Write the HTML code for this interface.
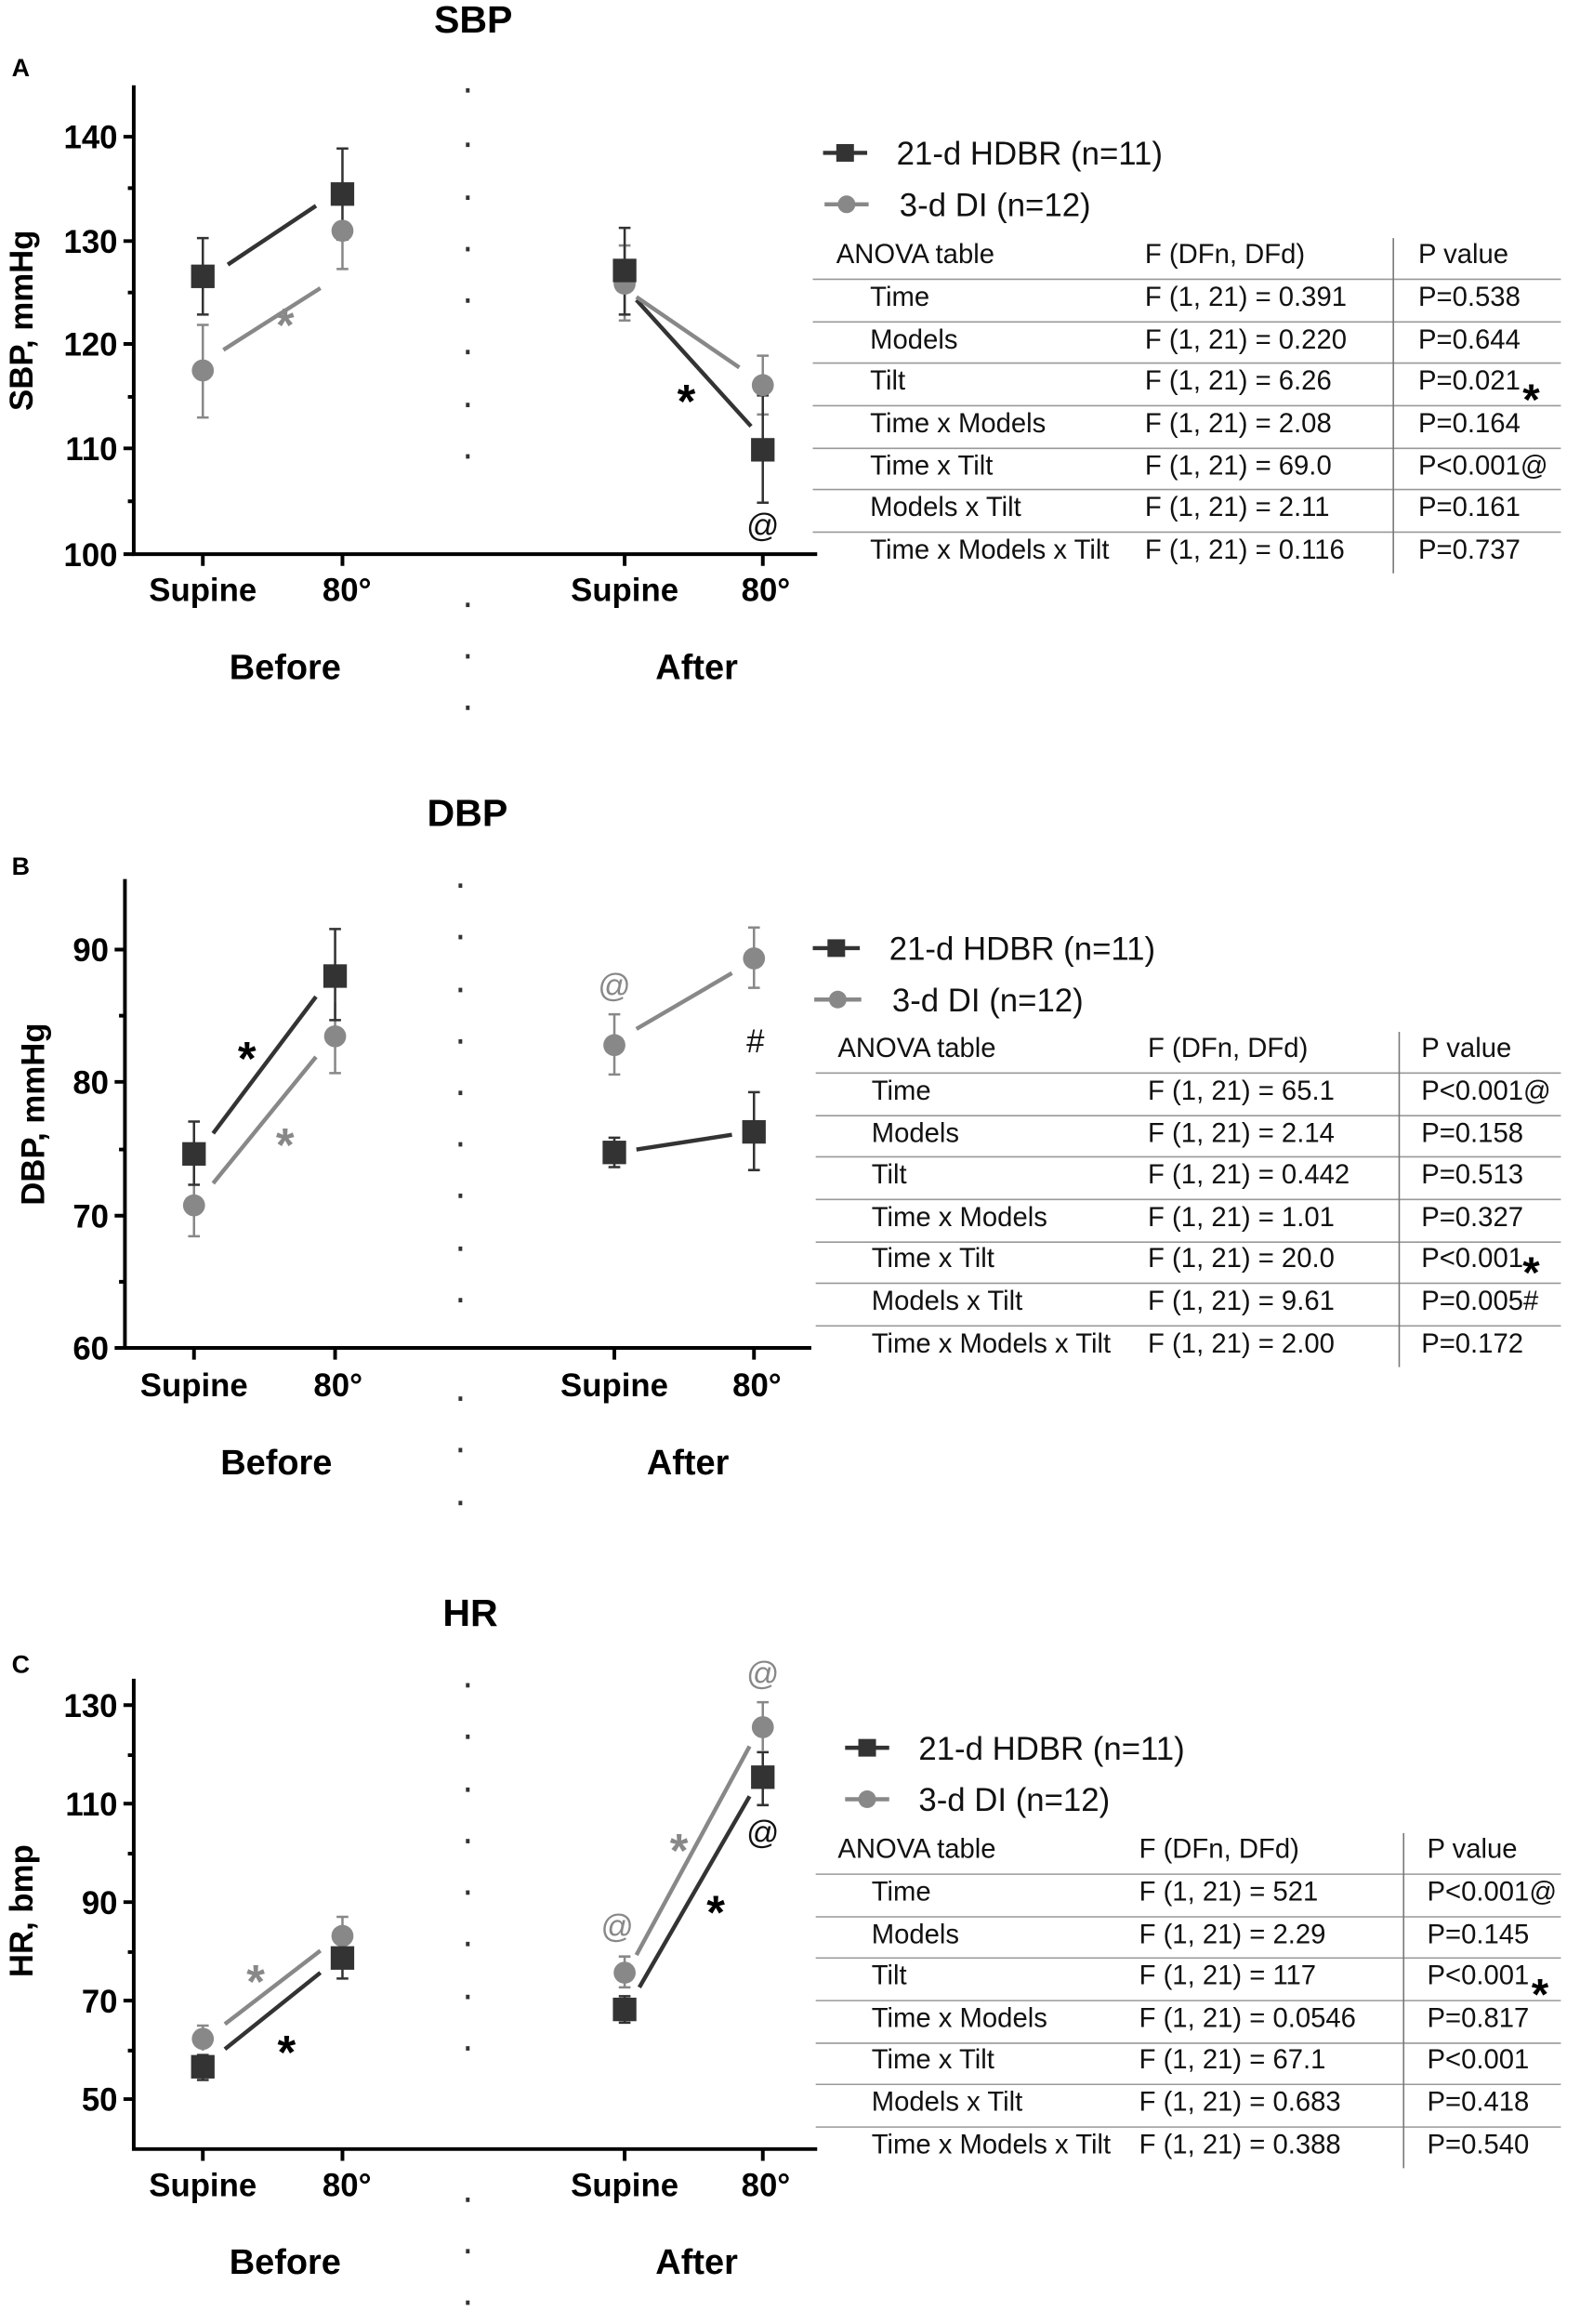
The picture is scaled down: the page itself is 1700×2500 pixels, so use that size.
<!DOCTYPE html>
<html><head><meta charset="utf-8"><style>
html,body{margin:0;padding:0;background:#fff}
svg{display:block}
.b{font-family:"Liberation Sans",sans-serif;font-weight:bold;fill:#000}
.t{font-family:"Liberation Sans Narrow","Liberation Sans",sans-serif;font-size:18.5px;fill:#111}
.tk{font-family:"Liberation Sans Narrow","Liberation Sans",sans-serif;font-weight:bold;font-size:22px;fill:#000}
.lg{font-family:"Liberation Sans Narrow","Liberation Sans",sans-serif;font-size:22px;fill:#111}
.ax{stroke:#000;stroke-width:2.5;fill:none}
.d{fill:#333}.g{fill:#888}
.ed{stroke:#333;stroke-width:1.6}.eg{stroke:#888;stroke-width:1.6}
.ld{stroke:#333;stroke-width:2.8}.lgr{stroke:#888;stroke-width:2.8}
.hl{stroke:#999;stroke-width:1}.vl{stroke:#777;stroke-width:1}
</style></head><body>
<svg width="1700" height="2500" viewBox="0 0 1075 1581" preserveAspectRatio="none" xmlns="http://www.w3.org/2000/svg">

<!-- ================= PANEL A ================= -->
<text class="b" x="322" y="22" font-size="26" text-anchor="middle">SBP</text>
<text class="b" x="8" y="52" font-size="17">A</text>
<g class="ax">
<path d="M91,58 V377 H556"/>
<path d="M84,93 H91 M84,164 H91 M84,234 H91 M84,305 H91 M84,377 H91"/>
<path d="M87,128 H91 M87,199 H91 M87,270 H91 M87,341 H91"/>
<path d="M138,377 V385 M233,377 V385 M425,377 V385 M519,377 V385"/>
</g>
<g class="tk" text-anchor="end"><text x="80" y="101">140</text><text x="80" y="172">130</text><text x="80" y="242">120</text><text x="80" y="313">110</text><text x="80" y="385">100</text></g>
<text class="b" font-size="22" transform="translate(22,218) rotate(-90)" text-anchor="middle">SBP, mmHg</text>
<g class="tk" text-anchor="middle"><text x="138" y="409">Supine</text><text x="236" y="409">80°</text><text x="425" y="409">Supine</text><text x="521" y="409">80°</text></g>
<g class="b" font-size="24" text-anchor="middle"><text x="194" y="462">Before</text><text x="474" y="462">After</text></g>
<g class="d"><rect x="317" y="60" width="2.5" height="3"/><rect x="317" y="97" width="2.5" height="3"/><rect x="317" y="133" width="2.5" height="3"/><rect x="317" y="168" width="2.5" height="3"/><rect x="317" y="203" width="2.5" height="3"/><rect x="317" y="238" width="2.5" height="3"/><rect x="317" y="274" width="2.5" height="3"/><rect x="317" y="309" width="2.5" height="3"/><rect x="317" y="410" width="2.5" height="3"/><rect x="317" y="445" width="2.5" height="3"/><rect x="317" y="480" width="2.5" height="3"/></g>
<path class="eg" d="M138,221 V284 M134,221 H142 M134,284 H142 M233,157 V183 M229,183 H237 M425,167 V218 M421,167 H429 M421,218 H429 M519,242 V282 M515,242 H523 M515,282 H523"/>
<path class="ed" d="M138,162 V214 M134,162 H142 M134,214 H142 M233,101 V163 M229,101 H237 M229,163 H237 M425,155 V214 M421,155 H429 M421,214 H429 M519,269 V342 M515,269 H523 M515,342 H523"/>
<path class="ld" d="M155,180 L215,140 M433,204 L511,290"/>
<path class="lgr" d="M152,238 L218,196 M433,202 L503,250"/>
<circle class="g" cx="138" cy="252" r="7.5"/><circle class="g" cx="233" cy="157" r="7.5"/><circle class="g" cx="425" cy="193" r="7.5"/><circle class="g" cx="519" cy="262" r="7.5"/>
<rect class="d" x="130" y="180" width="16" height="16"/><rect class="d" x="225" y="124" width="16" height="16"/><rect class="d" x="417" y="176" width="16" height="16"/><rect class="d" x="511" y="298" width="16" height="16"/>
<text class="b" x="194" y="232" font-size="32" style="fill:#888" text-anchor="middle">*</text>
<text class="b" x="467" y="284" font-size="32" text-anchor="middle">*</text>
<text class="lg" x="519" y="365" text-anchor="middle" font-size="20">@</text>
<path class="ld" d="M560,104 H590"/><rect class="d" x="569" y="98" width="12" height="12"/>
<path class="lgr" d="M561,139 H591"/><circle class="g" cx="576" cy="139" r="6"/>
<text class="lg" x="610" y="112">21-d HDBR (n=11)</text>
<text class="lg" x="612" y="147">3-d DI (n=12)</text>
<g class="t">
<text x="569" y="179">ANOVA table</text><text x="779" y="179">F (DFn, DFd)</text><text x="965" y="179">P value</text>
<text x="592" y="208">Time</text><text x="779" y="208">F (1, 21) = 0.391</text><text x="965" y="208">P=0.538</text>
<text x="592" y="237">Models</text><text x="779" y="237">F (1, 21) = 0.220</text><text x="965" y="237">P=0.644</text>
<text x="592" y="265">Tilt</text><text x="779" y="265">F (1, 21) = 6.26</text><text x="965" y="265">P=0.021</text>
<text x="592" y="294">Time x Models</text><text x="779" y="294">F (1, 21) = 2.08</text><text x="965" y="294">P=0.164</text>
<text x="592" y="323">Time x Tilt</text><text x="779" y="323">F (1, 21) = 69.0</text><text x="965" y="323">P&lt;0.001@</text>
<text x="592" y="351">Models x Tilt</text><text x="779" y="351">F (1, 21) = 2.11</text><text x="965" y="351">P=0.161</text>
<text x="592" y="380">Time x Models x Tilt</text><text x="779" y="380">F (1, 21) = 0.116</text><text x="965" y="380">P=0.737</text>
</g>
<text class="b" x="1036" y="282" font-size="30">*</text>
<path class="hl" d="M553,190 H1062 M553,219 H1062 M553,247 H1062 M553,276 H1062 M553,305 H1062 M553,333 H1062 M553,362 H1062"/>
<path class="vl" d="M948,162 V390"/>

<!-- ================= PANEL B ================= -->
<text class="b" x="318" y="562" font-size="26" text-anchor="middle">DBP</text>
<text class="b" x="8" y="595" font-size="17">B</text>
<g class="ax">
<path d="M85,598 V917 H552"/>
<path d="M78,646 H85 M78,736 H85 M78,827 H85 M78,917 H85"/>
<path d="M81,691 H85 M81,782 H85 M81,872 H85"/>
<path d="M132,917 V925 M228,917 V925 M418,917 V925 M513,917 V925"/>
</g>
<g class="tk" text-anchor="end"><text x="74" y="654">90</text><text x="74" y="744">80</text><text x="74" y="835">70</text><text x="74" y="925">60</text></g>
<text class="b" font-size="22" transform="translate(30,758) rotate(-90)" text-anchor="middle">DBP, mmHg</text>
<g class="tk" text-anchor="middle"><text x="132" y="950">Supine</text><text x="230" y="950">80°</text><text x="418" y="950">Supine</text><text x="515" y="950">80°</text></g>
<g class="b" font-size="24" text-anchor="middle"><text x="188" y="1003">Before</text><text x="468" y="1003">After</text></g>
<g class="d"><rect x="312" y="601" width="2.5" height="3"/><rect x="312" y="636" width="2.5" height="3"/><rect x="312" y="672" width="2.5" height="3"/><rect x="312" y="707" width="2.5" height="3"/><rect x="312" y="742" width="2.5" height="3"/><rect x="312" y="777" width="2.5" height="3"/><rect x="312" y="812" width="2.5" height="3"/><rect x="312" y="848" width="2.5" height="3"/><rect x="312" y="883" width="2.5" height="3"/><rect x="312" y="950" width="2.5" height="3"/><rect x="312" y="985" width="2.5" height="3"/><rect x="312" y="1021" width="2.5" height="3"/></g>
<path class="eg" d="M132,799 V841 M128,841 H136 M228,682 V730 M224,730 H232 M418,690 V731 M414,690 H422 M414,731 H422 M513,631 V672 M509,631 H517 M509,672 H517"/>
<path class="ed" d="M132,763 V806 M128,763 H136 M128,806 H136 M228,632 V694 M224,632 H232 M224,694 H232 M418,774 V794 M414,774 H422 M414,794 H422 M513,743 V796 M509,743 H517 M509,796 H517"/>
<path class="ld" d="M145,771 L215,678 M433,782 L498,772"/>
<path class="lgr" d="M145,805 L215,719 M433,700 L498,662"/>
<circle class="g" cx="132" cy="820" r="7.5"/><circle class="g" cx="228" cy="705" r="7.5"/><circle class="g" cx="418" cy="711" r="7.5"/><circle class="g" cx="513" cy="652" r="7.5"/>
<rect class="d" x="124" y="777" width="16" height="16"/><rect class="d" x="220" y="656" width="16" height="16"/><rect class="d" x="410" y="776" width="16" height="16"/><rect class="d" x="505" y="762" width="16" height="16"/>
<text class="b" x="168" y="731" font-size="32" text-anchor="middle">*</text>
<text class="b" x="194" y="790" font-size="32" style="fill:#888" text-anchor="middle">*</text>
<text class="lg" x="418" y="678" font-size="20" style="fill:#888" text-anchor="middle">@</text>
<text class="lg" x="514" y="716" font-size="19" text-anchor="middle">#</text>
<path class="ld" d="M553,645 H585"/><rect class="d" x="563" y="639" width="12" height="12"/>
<path class="lgr" d="M554,680 H586"/><circle class="g" cx="570" cy="680" r="6"/>
<text class="lg" x="605" y="653">21-d HDBR (n=11)</text>
<text class="lg" x="607" y="688">3-d DI (n=12)</text>
<g class="t">
<text x="570" y="719">ANOVA table</text><text x="781" y="719">F (DFn, DFd)</text><text x="967" y="719">P value</text>
<text x="593" y="748">Time</text><text x="781" y="748">F (1, 21) = 65.1</text><text x="967" y="748">P&lt;0.001@</text>
<text x="593" y="777">Models</text><text x="781" y="777">F (1, 21) = 2.14</text><text x="967" y="777">P=0.158</text>
<text x="593" y="805">Tilt</text><text x="781" y="805">F (1, 21) = 0.442</text><text x="967" y="805">P=0.513</text>
<text x="593" y="834">Time x Models</text><text x="781" y="834">F (1, 21) = 1.01</text><text x="967" y="834">P=0.327</text>
<text x="593" y="862">Time x Tilt</text><text x="781" y="862">F (1, 21) = 20.0</text><text x="967" y="862">P&lt;0.001</text>
<text x="593" y="891">Models x Tilt</text><text x="781" y="891">F (1, 21) = 9.61</text><text x="967" y="891">P=0.005#</text>
<text x="593" y="920">Time x Models x Tilt</text><text x="781" y="920">F (1, 21) = 2.00</text><text x="967" y="920">P=0.172</text>
</g>
<text class="b" x="1036" y="876" font-size="30">*</text>
<path class="hl" d="M555,730 H1062 M555,759 H1062 M555,787 H1062 M555,816 H1062 M555,845 H1062 M555,873 H1062 M555,902 H1062"/>
<path class="vl" d="M952,702 V930"/>

<!-- ================= PANEL C ================= -->
<text class="b" x="320" y="1106" font-size="26" text-anchor="middle">HR</text>
<text class="b" x="8" y="1138" font-size="17">C</text>
<g class="ax">
<path d="M91,1142 V1462 H556"/>
<path d="M84,1160 H91 M84,1227 H91 M84,1294 H91 M84,1361 H91 M84,1428 H91"/>
<path d="M87,1194 H91 M87,1261 H91 M87,1328 H91 M87,1395 H91"/>
<path d="M138,1462 V1470 M233,1462 V1470 M425,1462 V1470 M519,1462 V1470"/>
</g>
<g class="tk" text-anchor="end"><text x="80" y="1168">130</text><text x="80" y="1235">110</text><text x="80" y="1302">90</text><text x="80" y="1369">70</text><text x="80" y="1436">50</text></g>
<text class="b" font-size="22" transform="translate(22,1300) rotate(-90)" text-anchor="middle">HR, bmp</text>
<g class="tk" text-anchor="middle"><text x="138" y="1494">Supine</text><text x="236" y="1494">80°</text><text x="425" y="1494">Supine</text><text x="521" y="1494">80°</text></g>
<g class="b" font-size="24" text-anchor="middle"><text x="194" y="1547">Before</text><text x="474" y="1547">After</text></g>
<g class="d"><rect x="317" y="1145" width="2.5" height="3"/><rect x="317" y="1180" width="2.5" height="3"/><rect x="317" y="1216" width="2.5" height="3"/><rect x="317" y="1251" width="2.5" height="3"/><rect x="317" y="1286" width="2.5" height="3"/><rect x="317" y="1321" width="2.5" height="3"/><rect x="317" y="1357" width="2.5" height="3"/><rect x="317" y="1392" width="2.5" height="3"/><rect x="317" y="1495" width="2.5" height="3"/><rect x="317" y="1530" width="2.5" height="3"/><rect x="317" y="1565" width="2.5" height="3"/></g>
<path class="eg" d="M138,1378 V1395 M134,1378 H142 M233,1304 V1330 M229,1304 H237 M425,1331 V1352 M421,1331 H429 M421,1352 H429 M519,1158 V1191 M515,1158 H523"/>
<path class="ed" d="M138,1398 V1415 M134,1398 H142 M134,1415 H142 M233,1318 V1346 M229,1318 H237 M229,1346 H237 M425,1358 V1376 M421,1358 H429 M421,1376 H429 M519,1192 V1228 M515,1192 H523 M515,1228 H523"/>
<path class="ld" d="M153,1394 L218,1342 M435,1352 L510,1222"/>
<path class="lgr" d="M153,1377 L218,1327 M433,1330 L510,1188"/>
<circle class="g" cx="138" cy="1387" r="7.5"/><circle class="g" cx="233" cy="1317" r="7.5"/><circle class="g" cx="425" cy="1342" r="7.5"/><circle class="g" cx="519" cy="1175" r="7.5"/>
<rect class="d" x="130" y="1398" width="16" height="16"/><rect class="d" x="225" y="1324" width="16" height="16"/><rect class="d" x="417" y="1359" width="16" height="16"/><rect class="d" x="511" y="1201" width="16" height="16"/>
<text class="b" x="174" y="1359" font-size="32" style="fill:#888" text-anchor="middle">*</text>
<text class="b" x="195" y="1407" font-size="32" text-anchor="middle">*</text>
<text class="b" x="462" y="1270" font-size="32" style="fill:#888" text-anchor="middle">*</text>
<text class="b" x="487" y="1312" font-size="32" text-anchor="middle">*</text>
<text class="lg" x="420" y="1318" font-size="20" style="fill:#888" text-anchor="middle">@</text>
<text class="lg" x="519" y="1146" font-size="20" style="fill:#888" text-anchor="middle">@</text>
<text class="lg" x="519" y="1254" font-size="20" text-anchor="middle">@</text>
<path class="ld" d="M575,1189 H605"/><rect class="d" x="584" y="1183" width="12" height="12"/>
<path class="lgr" d="M575,1224 H605"/><circle class="g" cx="590" cy="1224" r="6"/>
<text class="lg" x="625" y="1197">21-d HDBR (n=11)</text>
<text class="lg" x="625" y="1232">3-d DI (n=12)</text>
<g class="t">
<text x="570" y="1264">ANOVA table</text><text x="775" y="1264">F (DFn, DFd)</text><text x="971" y="1264">P value</text>
<text x="593" y="1293">Time</text><text x="775" y="1293">F (1, 21) = 521</text><text x="971" y="1293">P&lt;0.001@</text>
<text x="593" y="1322">Models</text><text x="775" y="1322">F (1, 21) = 2.29</text><text x="971" y="1322">P=0.145</text>
<text x="593" y="1350">Tilt</text><text x="775" y="1350">F (1, 21) = 117</text><text x="971" y="1350">P&lt;0.001</text>
<text x="593" y="1379">Time x Models</text><text x="775" y="1379">F (1, 21) = 0.0546</text><text x="971" y="1379">P=0.817</text>
<text x="593" y="1407">Time x Tilt</text><text x="775" y="1407">F (1, 21) = 67.1</text><text x="971" y="1407">P&lt;0.001</text>
<text x="593" y="1436">Models x Tilt</text><text x="775" y="1436">F (1, 21) = 0.683</text><text x="971" y="1436">P=0.418</text>
<text x="593" y="1465">Time x Models x Tilt</text><text x="775" y="1465">F (1, 21) = 0.388</text><text x="971" y="1465">P=0.540</text>
</g>
<text class="b" x="1042" y="1367" font-size="30">*</text>
<path class="hl" d="M555,1275 H1062 M555,1304 H1062 M555,1332 H1062 M555,1361 H1062 M555,1390 H1062 M555,1418 H1062 M555,1447 H1062"/>
<path class="vl" d="M955,1247 V1475"/>
</svg>
</body></html>
